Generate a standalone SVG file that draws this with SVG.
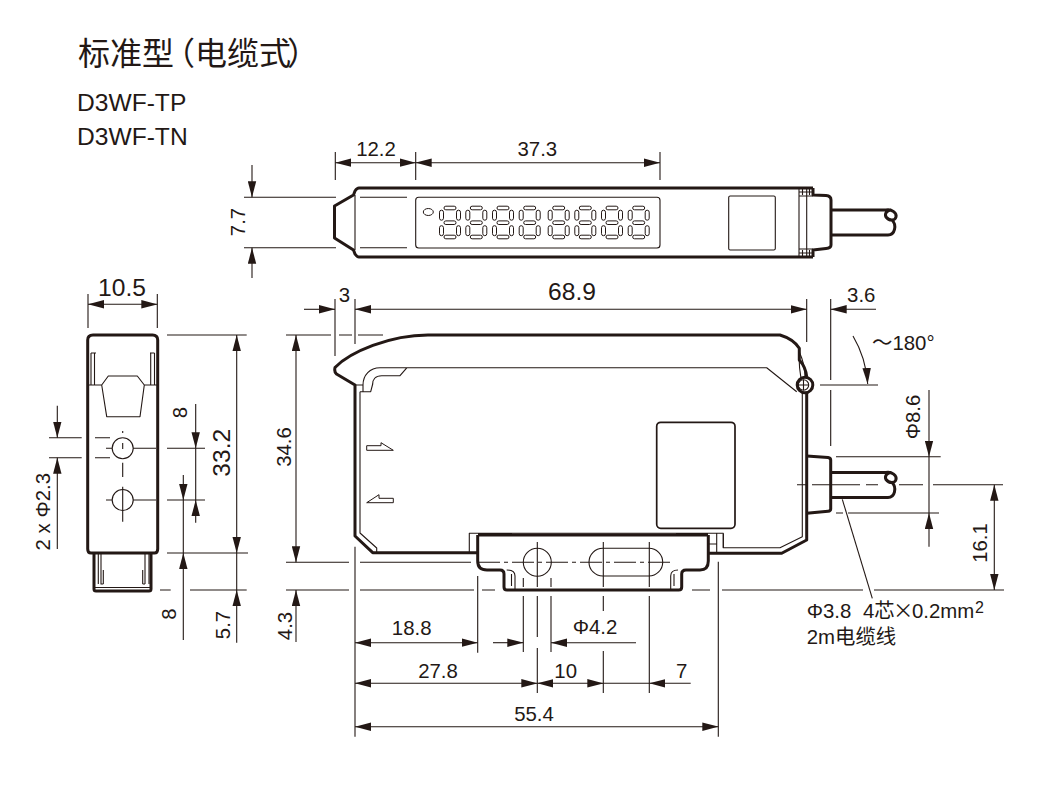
<svg xmlns="http://www.w3.org/2000/svg" xmlns:xlink="http://www.w3.org/1999/xlink" width="1058" height="792" viewBox="0 0 1058 792">
<style>
text{font-family:"Liberation Sans","Noto Sans CJK SC",sans-serif;fill:#231815;font-size:20.4px}
.m{text-anchor:middle}
.l{font-size:24.6px}
.k,.t,.h,.e,.b,.x{fill:none;stroke:#231815;stroke-linejoin:round}
.k{stroke-width:3}
.t{stroke-width:1.1}
.h{stroke-width:1}
.e,.b,.x{stroke-width:1.1}
.e{marker-end:url(#a)}
.b{marker-start:url(#a);marker-end:url(#a)}
</style>
<defs>
<marker id="a" markerUnits="userSpaceOnUse" markerWidth="16" markerHeight="9" viewBox="0 0 16 9" refX="16" refY="4.5" orient="auto-start-reverse"><path d="M0,0.3L16,4.5L0,8.7Z" fill="#231815"/></marker>
<g id="dg" class="h">
<rect x="-6" y="-16.5" width="12" height="3.6" rx="1.8"/><rect x="-6" y="-1.8" width="12" height="3.6" rx="1.8"/><rect x="-6" y="12.5" width="12" height="3.6" rx="1.8"/>
<rect x="-10.5" y="-12.5" width="4" height="10" rx="2"/><rect x="6.5" y="-12.5" width="4" height="10" rx="2"/><rect x="-10.5" y="3" width="4" height="10" rx="2"/><rect x="6.5" y="3" width="4" height="10" rx="2"/>
</g>
<path id="cb" class="k" d="M831,210H886C892,209 897,213 896,217C895,221 889,221 886,217C884,213 888,210 891,210M892,220C897,225 895,235 888,235H831"/>
</defs>

<g id="heading">
<text x="78 110 142 163 195 227 259 287" y="65" style="font-size:32px">标准型（电缆式）</text>
<text x="77" y="111" class="l">D3WF-TP</text>
<text x="77" y="145" class="l">D3WF-TN</text>
</g>

<g id="top-view">
<path class="k" d="M813,188H359Q357,188 355,191L353.5,195L334.5,206V238L353.5,250L355,254Q357,257 359,257H813"/>
<path class="k" d="M813,188V195L826,195.5Q831,196 831,200V245Q831,248 826,248.5L813,250V257"/>
<use xlink:href="#cb" href="#cb"/>
<path class="t" d="M355,195V250M320,197.3H336M360,197.3H407M320,247.7H336M360,247.7H407M799,188V257M806.7,188V257M799,192H813M799,253H813M799,196H813M799,249H813M802.5,189V195M809.5,189V195M802.5,250V256M809.5,250V256"/>
<rect class="t" x="415.7" y="197.3" width="244.3" height="50.7" rx="3"/>
<rect class="t" x="728.7" y="196" width="46.6" height="54" rx="1.5"/>
<ellipse class="h" cx="428.3" cy="212" rx="5" ry="3.5"/>
<use xlink:href="#dg" href="#dg" x="450" y="222.7"/><use xlink:href="#dg" href="#dg" x="476.3" y="222.7"/><use xlink:href="#dg" href="#dg" x="503" y="222.7"/><use xlink:href="#dg" href="#dg" x="529.7" y="222.7"/><use xlink:href="#dg" href="#dg" x="558.7" y="222.7"/><use xlink:href="#dg" href="#dg" x="585.3" y="222.7"/><use xlink:href="#dg" href="#dg" x="612" y="222.7"/><use xlink:href="#dg" href="#dg" x="638.7" y="222.7"/>
</g>

<g id="side-view">
<path class="k" d="M93,335H152.5Q157.7,335 157.7,340V549Q157.7,553 154.5,553H91Q87.7,553 87.7,549V340Q87.7,335 93,335Z"/>
<path class="k" d="M94,553V589Q94,591 96,591H149Q151,591 151,589V553"/>
<path class="t" d="M88,385H101.7L108.3,376H137.3L144.3,385H157.7M101.7,385L106.7,416.7H140L144.3,385M91,353H96M91,353V385M94.5,353V385M150,353H154.5M150.7,353V385M154.5,353V385"/>
<path class="t" d="M98.3,553V584M101,553V584H103.3M103.3,570V584M142.7,570V584M145,553V584M149,553V584M142.7,584H145M95,587.5H150"/>
<circle class="t" cx="122.7" cy="448.3" r="10.5"/>
<circle class="t" cx="122.7" cy="500" r="10.5"/>
<path class="t" d="M106,448.3H112M133,448.3H156M106,500H112M133,500H156M122.7,431V433M122.7,443V449M122.7,462.7V477M122.7,486.7V521.7M122.7,495V502"/>
<path class="t" d="M49,437.7H81.7M95,437.7H110M49,457.7H81.7M95,457.7H110"/>
</g>

<g id="front-view">
<path class="k" d="M477.7,552.7H372.7L355,536V385L336.5,374Q334,372 335,367.5C350,352 390,335 428,335H780C790,338 796,343 799.3,348.3L799.3,360C803,364 806,369 806.7,377M806.7,393V540L781.7,553.3H708.3"/>
<path class="t" d="M355,385H363C363,375 370,367.7 380,367.7H766.7L796.7,391.7M407,367.7L400,375.7H381.7C375,375.7 372.7,380 372.7,384L370.7,391.7H360M360,391.7V533L376.7,548V552M363,385V391.7M802.3,393V536.7L780,547.7H723.3V534M799.3,360C799,367 800,372 801,378M799.3,352C803,360 805,368 805,377"/>
<path class="h" d="M366.7,445.7H381V442.7L393.3,450.3H366.7ZM366.7,502.7L379,494.7V498.3H393.3V502.7Z"/>
<circle class="k" cx="805" cy="385" r="7.8"/>
<circle class="t" cx="803.5" cy="385" r="5.2"/>
<path class="t" d="M798.3,385H808.7M803.5,379.8V390.2"/>
<rect x="656.7" y="422.3" width="78.3" height="106" rx="4" fill="none" stroke="#231815" stroke-width="1.7"/>
<path class="k" d="M806.7,456L828,457.5Q830.7,458 830.7,460V509Q830.7,511 828,511.3L806.7,513.3"/>
<use xlink:href="#cb" href="#cb" y="262.5"/>
<path class="t" d="M797,484.7H806M812,484.7H860M866,484.7H878M869,484.7H871"/>
<path class="k" d="M477.7,535V561Q477.7,570 487,570H500Q504,570 504,574V587Q504,590 507,590H678.7Q681.7,590 681.7,587V574Q681.7,570 686,570H700Q708.3,570 708.3,561V535M478,535H708"/>
<path class="t" d="M469.3,552.7V533.3H723.3V547.7M716.7,533.3V552M708,544H717M478,533.8H512M676,533.8H708"/>
<path class="t" d="M506.7,570C512,570 515,572 515,576V590M511.5,574V586M678,570C673,570 670.7,572 670.7,576V590M674,574V586"/>
<circle class="t" cx="537.3" cy="562.3" r="14"/>
<rect class="t" x="589" y="548.3" width="73.7" height="27.7" rx="13.8"/>
<path class="t" stroke-dasharray="22 4 4 4" d="M478,562.3H670"/>
</g>

<g id="connectors">
<path class="x" d="M335.3,152V180M415.7,152V180M660,152V180M244,197.3H320M244,247.7H320"/>
<path class="b" d="M335.3,162.7H415.7"/>
<path class="e" d="M540,162.7H415.7"/>
<path class="e" d="M540,162.7H660"/>
<path class="e" d="M252,165V197.3"/>
<path class="e" d="M252,278V247.7"/>
<path class="x" d="M88,294V328M157.3,294V328"/>
<path class="b" d="M88,304.3H157.3"/>
<path class="e" d="M57.3,405.7V437.7"/>
<path class="e" d="M57.3,549V457.7"/>
<path class="x" d="M167,335H246.7M167,553H248M167,448.3H205M167,500H205M160,590H170.7M190,590H246.7"/>
<path class="b" d="M236.7,335V553"/>
<path class="e" d="M236.7,642.7V590"/>
<path class="x" d="M236.7,553V590"/>
<path class="e" d="M195.7,404V448.3"/>
<path class="e" d="M195.7,522.7V500"/>
<path class="x" d="M195.7,448.3V500"/>
<path class="e" d="M183.3,475V500"/>
<path class="e" d="M183.3,640V553"/>
<path class="x" d="M183.3,500V553"/>

<path class="x" d="M335,299V356M355,299V344M286,335H331M339,335H352M358,335H383"/>
<path class="e" d="M304,309.3H335"/>
<path class="e" d="M570,309.3H355"/>
<path class="e" d="M570,309.3H806.7"/>
<path class="x" d="M806.7,299V342M830.7,299V380M830.7,390V446M820,385H878M836,456.7H940.7M836,513H843M848,513H939"/>
<path class="e" d="M876,309.3H830.7"/>
<path class="e" d="M853,336Q866,358 867.7,384"/>
<path class="e" d="M929,390V456.7"/>
<path class="e" d="M929,546.7V513"/>
<path class="x" d="M929,456.7V513M899,484.7H923M933,484.7H1003"/>
<path class="b" d="M994.3,484.7V590"/>
<path class="x" d="M842.3,499.3L872.3,598.3"/>
<path class="x" d="M286,562.3H349M360,562.3H471M286,590H349M360,590H474M482,590H495M692,590H710M722,590H863M874,590H1004"/>
<path class="e" d="M296,450V335"/>
<path class="e" d="M296,450V562.3"/>
<path class="e" d="M296,642V590"/>
<path class="x" d="M355,546.7V736.7M477.7,576V652.7M718.3,561.7V736.7M523.3,578V587M523.3,596V652M551,578V587M551,596V652M537.3,542V587M537.3,596V637M537.3,648V693M603.3,542V587M603.3,596V611M603.3,651V693M649.3,542V587M649.3,596V693"/>
<path class="b" d="M355,642.7H477.7"/>
<path class="e" d="M493,642.7H523.3"/>
<path class="e" d="M636,642.7H551"/>
<path class="b" d="M355,683.3H537.3"/>
<path class="b" d="M537.3,683.3H603.3"/>
<path class="x" d="M603.3,683.3H649.3"/>
<path class="e" d="M690.7,683.3H649.3"/>
<path class="b" d="M355,726.7H718.3"/>
</g>

<g id="labels">
<text x="376" y="156" class="m">12.2</text>
<text x="537.3" y="156" class="m">37.3</text>
<text transform="translate(244.5,222) rotate(-90)" class="m">7.7</text>
<text x="122" y="295.5" class="m l">10.5</text>
<text x="572" y="300" class="m l">68.9</text>
<text x="344.3" y="301.5" class="m">3</text>
<text x="861.3" y="301.5" class="m">3.6</text>
<text x="872" y="350">～180°</text>
<text transform="translate(50,511.7) rotate(-90)" class="m">2 x Φ2.3</text>
<text transform="translate(187.3,412.7) rotate(-90)" class="m">8</text>
<text transform="translate(175.7,614) rotate(-90)" class="m">8</text>
<text transform="translate(230,452.7) rotate(-90)" class="m l">33.2</text>
<text transform="translate(230,625) rotate(-90)" class="m">5.7</text>
<text transform="translate(291,447) rotate(-90)" class="m">34.6</text>
<text transform="translate(292,626) rotate(-90)" class="m">4.3</text>
<text transform="translate(920,417) rotate(-90)" class="m">Φ8.6</text>
<text transform="translate(987,543) rotate(-90)" class="m">16.1</text>
<text x="411.7" y="635" class="m">18.8</text>
<text x="595" y="634" class="m">Φ4.2</text>
<text x="438" y="677.7" class="m">27.8</text>
<text x="565.7" y="677.7" class="m">10</text>
<text x="681.7" y="677.7" class="m">7</text>
<text x="534" y="720.7" class="m">55.4</text>
<text x="806.7" y="618.3">Φ3.8</text>
<text x="863" y="618.3">4芯<tspan style="font-family:'Noto Sans CJK SC',sans-serif" x="893">×</tspan><tspan x="912">0.2mm</tspan></text>
<text x="975" y="612.5" style="font-size:16px">2</text>
<text x="806.7" y="644">2m电缆线</text>
</g>
</svg>
